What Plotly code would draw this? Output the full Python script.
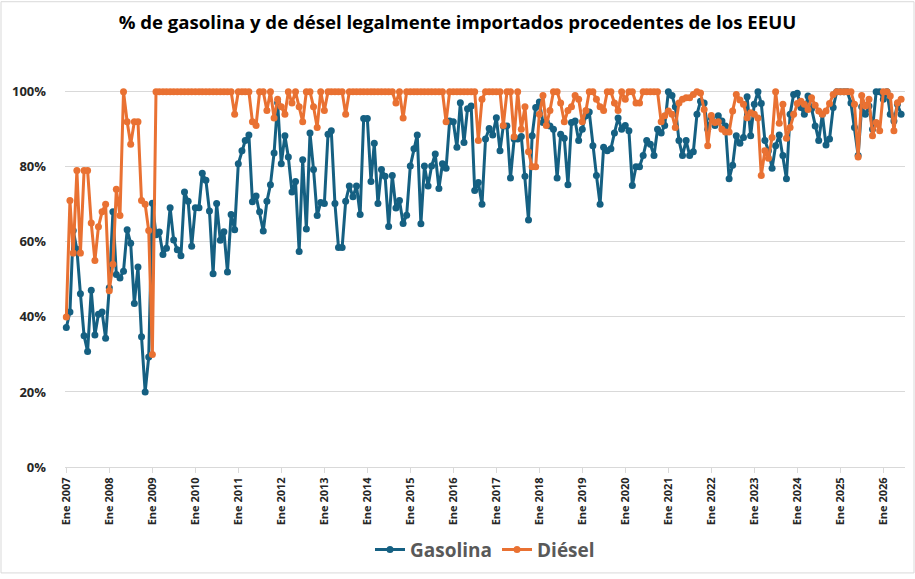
import pandas as pd
import plotly.graph_objects as go

# Monthly share (%) of legally imported fuel coming from the US, Jan 2007 onwards
gasolina = [
    37.2, 41.3, 63, 58, 46.2, 35, 30.8, 47.1, 35.2, 40.7, 41.3, 34.3,        # 2007
    47.8, 68, 51.3, 50.4, 52.2, 63.2, 59.6, 43.6, 53.3, 34.7, 20, 29.3,      # 2008
    70.3, 61.9, 62.6, 56.6, 58.3, 69.1, 60.5, 57.9, 56.3, 73.3, 70.8, 58.8,  # 2009
    69.1, 69.1, 78.3, 76.4, 68.2, 51.5, 70.2, 60.4, 62.7, 52, 67.3, 63.2,    # 2010
    80.8, 84.3, 87, 88.5, 70.7, 72.2, 68, 62.9, 70.8, 75.2, 83.7, 97.1,      # 2011
    80.8, 88.3, 82.6, 73.3, 76.1, 57.4, 81.9, 63.4, 89, 79.3, 67, 70.5,      # 2012
    70.2, 88.7, 89.6, 70.2, 58.5, 58.5, 70.8, 74.9, 72, 74.9, 67.3, 92.9,    # 2013
    92.9, 76.1, 86.3, 70.2, 79.3, 77.5, 64.1, 77.7, 69, 71, 64.9, 67.1,      # 2014
    80.2, 84.8, 88.5, 64.8, 80.2, 74.9, 80.2, 83.4, 74.2, 80.8, 79.6, 92.2,  # 2015
    92, 85.2, 97.1, 86.5, 95.5, 96.2, 73.7, 75.8, 70, 87.4, 90.2, 88.5,      # 2016
    93.1, 84.3, 90.9, 90.9, 77, 87.4, 87.4, 88.1, 77.5, 65.8, 88.3, 95.8,    # 2017
    97.3, 91.8, 92, 90.9, 90, 77, 88.7, 87.6, 75.2, 91.8, 92.2, 87,          # 2018
    90, 93.6, 94.6, 85.6, 77.7, 70, 85.2, 84.3, 84.8, 89, 93, 90,            # 2019
    91, 89.6, 75, 80, 80, 83, 87, 86, 83, 90, 89, 91,                        # 2020
    100, 99, 96, 87, 83, 87, 83, 84, 94, 97.5, 97, 90,                       # 2021
    93, 91, 93.6, 92.2, 90.9, 76.8, 80.4, 88.3, 86.3, 87.8, 98.7, 88.3,      # 2022
    96.7, 100, 96.9, 87, 84.3, 79.6, 85.6, 88.5, 83, 76.8, 94, 99.3,         # 2023
    99.6, 95.8, 94, 98.9, 95.5, 90.9, 87, 94, 85.8, 87.4, 95.8, 100,         # 2024
    100, 100, 100, 97, 90.5, 83, 96, 94, 96.2, 90, 100, 100,                 # 2025
    98, 100, 94, 92.2, 96.7, 94,                                             # 2026
]

diesel = [
    40, 71, 57, 79, 57, 79, 79, 65, 55, 64, 68, 70,                          # 2007
    47, 54, 74, 67, 100, 92, 86, 92, 92, 71, 70, 63,                         # 2008
    30, 100, 100, 100, 100, 100, 100, 100, 100, 100, 100, 100,               # 2009
    100, 100, 100, 100, 100, 100, 100, 100, 100, 100, 100, 94,               # 2010
    100, 100, 100, 100, 92, 91, 100, 100, 95, 100, 93, 98,                   # 2011
    96, 94, 100, 97, 100, 96, 92, 100, 100, 96, 90.5, 100,                   # 2012
    95, 100, 100, 100, 100, 100, 94, 100, 100, 100, 100, 100,                # 2013
    100, 100, 100, 100, 100, 100, 100, 100, 97, 100, 93, 100,                # 2014
    100, 100, 100, 100, 100, 100, 100, 100, 100, 100, 92, 100,               # 2015
    100, 100, 100, 100, 100, 100, 100, 87, 98, 100, 100, 100,                # 2016
    100, 100, 91, 100, 100, 88, 100, 90, 96, 84, 80, 80,                     # 2017
    94, 99, 91, 95, 100, 100, 97, 92, 95, 96, 99, 98,                        # 2018
    92, 95, 100, 100, 98, 96, 95, 100, 100, 97, 95, 100,                     # 2019
    98, 100, 100, 97, 97, 100, 100, 100, 100, 100, 92, 93.6,                 # 2020
    94.9, 94, 90.5, 97, 98, 98.4, 98.4, 99.3, 100, 99.7, 95.3, 85.6,         # 2021
    93.7, 91.8, 92, 90, 89.3, 89.3, 94.9, 99.3, 97.8, 96.7, 93.1, 94.4,      # 2022
    94, 93, 77.7, 84.3, 82.3, 87.8, 100, 91.6, 96.7, 87.6, 90.5, 94,         # 2023
    96.9, 97.5, 96.7, 95.3, 98.4, 96.4, 94.9, 94, 94.9, 96.9, 99.3, 100,     # 2024
    100, 100, 100, 100, 96.7, 82.6, 99, 96.2, 98, 88.3, 91.8, 89.6,          # 2025
    100, 100, 98.9, 89.6, 97.1, 98,                                          # 2026
]

years = list(range(2007, 2027))
tick_labels = [f"Ene {y}" for y in years]

fechas = pd.date_range("2007-01-01", periods=len(gasolina), freq="MS")
tick_vals = [pd.Timestamp(f"{y}-01-01") for y in years]

AZUL = "#156082"
NARANJA = "#E97132"

fig = go.Figure()

fig.add_trace(go.Scatter(
    x=fechas, y=[v / 100 for v in gasolina], name="<b>Gasolina</b>",
    mode="lines+markers",
    line=dict(color=AZUL, width=3),
    marker=dict(color=AZUL, size=7),
    cliponaxis=False,
))

fig.add_trace(go.Scatter(
    x=fechas, y=[v / 100 for v in diesel], name="<b>Diésel</b>",
    mode="lines+markers",
    line=dict(color=NARANJA, width=3),
    marker=dict(color=NARANJA, size=7),
    cliponaxis=False,
))

fig.update_layout(
    width=915, height=579,
    margin=dict(l=65, r=10, t=73, b=108),
    paper_bgcolor="white",
    plot_bgcolor="white",
    font=dict(family="Open Sans", color="#404040"),
    title=dict(
        text="<b>% de gasolina y de désel legalmente importados procedentes de los EEUU</b>",
        x=0.5, xanchor="center", y=0.962, yanchor="middle",
        font=dict(size=18.6, color="black", family="Open Sans"),
    ),
    legend=dict(
        orientation="h", x=0.5, xanchor="center", y=-0.21, yanchor="middle",
        font=dict(size=19, color="#595959", family="Open Sans"),
        itemwidth=30,
    ),
    showlegend=True,
)

fig.update_xaxes(
    range=["2006-12-21", "2026-07-04"],
    tickvals=tick_vals,
    ticktext=[f"<b>{t}</b>" for t in tick_labels],
    tickangle=-90,
    tickfont=dict(size=11, color="#262626"),
    ticks="outside", ticklen=5, tickcolor="#d9d9d9",
    showgrid=False,
    showline=True, linecolor="#d9d9d9", linewidth=1,
    zeroline=False,
    automargin=False,
)

fig.update_yaxes(
    range=[0, 1.05],
    tickvals=[0, 0.2, 0.4, 0.6, 0.8, 1.0],
    ticktext=["<b>0%</b>", "<b>20%</b>", "<b>40%</b>", "<b>60%</b>", "<b>80%</b>", "<b>100%</b>"],
    tickfont=dict(size=13, color="#262626"),
    showgrid=True, gridcolor="#d9d9d9", gridwidth=1,
    zeroline=False,
    ticklabelstandoff=18,
    automargin=False,
)

# thin chart border like the Excel chart area
fig.add_shape(
    type="rect", xref="paper", yref="paper",
    x0=-64 / 840, x1=1 + 9 / 840, y0=-107 / 398, y1=1 + 72 / 398,
    line=dict(color="#d9d9d9", width=1), fillcolor="rgba(0,0,0,0)",
)

# the page body has a default margin; drop it so the chart fills the window
fig.write_html("out.html", config={"displayModeBar": False},
               post_script="document.body.style.margin='0';")
